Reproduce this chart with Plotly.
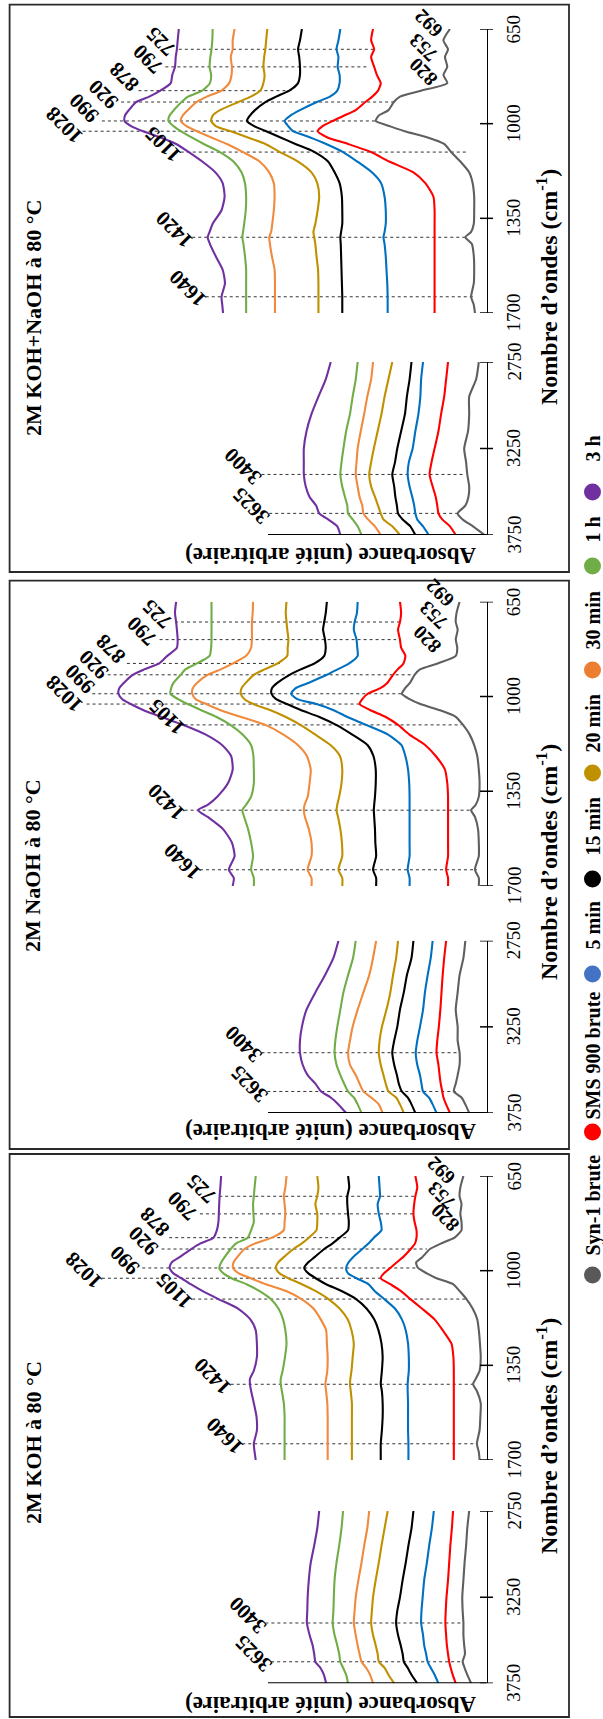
import plotly.graph_objects as go

# ---------------- data ----------------
SERIES = ["Syn-1 brute", "SMS 900 brute", "5 min", "15 min", "20 min", "30 min", "1 h", "3 h"]
LINE_COLORS = ["#5f5f5f", "#ff0000", "#0070c0", "#000000", "#bf9000", "#f08a3c", "#70ad47", "#7030a0"]
LEGEND_COLORS = ["#595959", "#ff0000", "#4472c4", "#000000", "#bf9000", "#ed7d31", "#70ad47", "#7030a0"]

PANEL_TITLES = ["2M KOH+NaOH à 80 °C", "2M NaOH à 80 °C", "2M KOH à 80 °C"]
X_TITLE = "Nombre d’ondes (cm<sup>-1</sup>)"
Y_TITLE = "Absorbance (unité arbitraire)"

TICKS_HIGH = [650, 1000, 1350, 1700]
TICKS_LOW = [2750, 3250, 3750]

WN_HIGH = [650, 692, 725, 753, 790, 820, 850, 878, 900, 920, 950, 970, 990, 1010, 1028, 1050, 1075,
           1105, 1140, 1180, 1220, 1270, 1320, 1370, 1400, 1420, 1445, 1490, 1540, 1590, 1640, 1670, 1700]
WN_LOW = [2750, 2850, 2950, 3050, 3150, 3250, 3330, 3400, 3470, 3530, 3580, 3625, 3660, 3700, 3750]

# absorbance (arbitrary units, stacked) -- order follows SERIES
KOHNAOH_HIGH = [
    [95, 112, 100, 108, 102, 112, 102, 170, 225, 241, 255, 280, 288, 250, 213, 155, 110, 92, 68, 45, 36, 32, 32, 33, 40, 55, 38, 33, 32, 33, 40, 33, 30],
    [295, 300, 292, 300, 292, 285, 275, 282, 297, 315, 340, 370, 400, 427, 439, 415, 360, 300, 253, 190, 159, 138, 135, 135, 135, 135, 135, 135, 135, 135, 135, 135, 135],
    [380, 385, 390, 385, 387, 382, 382, 388, 407, 441, 485, 510, 525, 515, 503, 460, 417, 373, 336, 298, 274, 265, 262, 262, 265, 268, 265, 262, 260, 258, 257, 257, 257],
    [480, 485, 490, 487, 485, 485, 490, 513, 547, 575, 602, 615, 623, 603, 573, 537, 497, 447, 412, 395, 382, 376, 375, 375, 378, 380, 379, 378, 377, 376, 375, 375, 375],
    [570, 573, 575, 578, 580, 577, 580, 588, 613, 645, 693, 712, 716, 703, 665, 622, 575, 537, 490, 455, 440, 435, 439, 445, 450, 448, 445, 442, 438, 437, 437, 437, 437],
    [655, 660, 660, 665, 662, 663, 669, 689, 727, 754, 777, 790, 795, 779, 753, 717, 675, 633, 590, 565, 553, 551, 553, 557, 560, 565, 563, 558, 551, 550, 550, 550, 550],
    [712, 713, 715, 718, 720, 716, 719, 739, 776, 793, 813, 824, 827, 813, 795, 768, 735, 693, 658, 637, 628, 625, 626, 630, 633, 635, 632, 628, 625, 625, 625, 625, 625],
    [800, 803, 805, 808, 810, 817, 821, 848, 877, 911, 930, 940, 941, 923, 893, 849, 807, 774, 739, 705, 686, 681, 689, 712, 720, 725, 719, 704, 686, 680, 689, 687, 685],
]
KOHNAOH_LOW = [
    [20, 27, 45, 45, 48, 58, 53, 50, 45, 47, 55, 75, 62, 35, 5],
    [100, 105, 110, 118, 125, 135, 143, 148, 140, 132, 128, 125, 115, 95, 80],
    [165, 170, 172, 177, 185, 192, 202, 205, 200, 193, 188, 185, 180, 165, 150],
    [195, 200, 207, 212, 222, 232, 238, 245, 240, 237, 233, 230, 218, 198, 185],
    [245, 255, 265, 273, 283, 293, 300, 305, 300, 290, 282, 275, 268, 245, 225],
    [295, 300, 310, 318, 327, 335, 338, 340, 335, 330, 323, 320, 308, 290, 275],
    [335, 340, 348, 355, 365, 372, 377, 380, 375, 368, 362, 360, 348, 335, 325],
    [405, 418, 437, 455, 468, 475, 475, 475, 470, 460, 443, 435, 412, 388, 380],
]
NAOH_HIGH = [
    [70, 78, 80, 75, 80, 76, 80, 127, 173, 187, 199, 212, 220, 200, 172, 123, 80, 61, 44, 32, 24, 20, 18, 20, 28, 40, 30, 22, 20, 20, 30, 20, 20],
    [225, 222, 225, 230, 225, 222, 211, 216, 231, 243, 258, 277, 309, 323, 330, 303, 263, 230, 201, 159, 132, 108, 102, 100, 100, 100, 100, 100, 100, 100, 105, 100, 100],
    [335, 337, 343, 345, 338, 336, 335, 357, 387, 415, 463, 497, 508, 492, 442, 399, 363, 313, 257, 221, 211, 204, 201, 200, 200, 200, 200, 200, 200, 200, 205, 200, 200],
    [415, 418, 422, 425, 420, 418, 422, 447, 483, 512, 544, 558, 559, 547, 519, 483, 436, 391, 350, 309, 294, 288, 288, 290, 292, 293, 292, 290, 289, 287, 295, 287, 287],
    [520, 522, 520, 518, 515, 517, 518, 543, 577, 605, 626, 637, 639, 629, 606, 563, 523, 484, 446, 405, 381, 375, 377, 383, 388, 390, 386, 380, 376, 375, 385, 375, 375],
    [607, 608, 610, 610, 610, 612, 625, 659, 691, 725, 753, 764, 765, 756, 729, 693, 640, 575, 529, 490, 467, 457, 460, 465, 473, 475, 472, 462, 455, 455, 465, 455, 455],
    [715, 715, 715, 715, 715, 716, 720, 753, 783, 795, 814, 820, 822, 802, 777, 743, 703, 666, 635, 612, 606, 605, 605, 612, 625, 635, 630, 620, 612, 607, 612, 605, 605],
    [807, 810, 807, 805, 803, 805, 830, 851, 890, 920, 943, 955, 957, 947, 925, 893, 847, 788, 731, 687, 664, 660, 672, 700, 725, 750, 725, 685, 662, 655, 670, 657, 660],
]
NAOH_LOW = [
    [55, 60, 70, 75, 80, 75, 75, 70, 70, 75, 80, 85, 65, 55, 45],
    [105, 110, 114, 117, 120, 124, 128, 130, 125, 122, 119, 115, 112, 105, 95],
    [140, 145, 153, 160, 165, 173, 180, 184, 180, 173, 169, 165, 150, 140, 130],
    [190, 195, 207, 215, 225, 232, 240, 245, 240, 233, 228, 220, 205, 195, 185],
    [230, 235, 243, 250, 260, 272, 278, 280, 275, 268, 262, 255, 235, 225, 215],
    [287, 295, 305, 320, 335, 348, 355, 360, 355, 340, 330, 320, 300, 280, 270],
    [340, 347, 360, 372, 380, 388, 393, 395, 390, 380, 370, 360, 345, 335, 325],
    [385, 398, 420, 445, 468, 480, 485, 485, 478, 465, 445, 430, 405, 385, 365],
]
KOH_HIGH = [
    [60, 68, 70, 65, 68, 65, 65, 83, 119, 147, 167, 183, 178, 155, 130, 87, 70, 52, 36, 24, 20, 17, 15, 18, 28, 35, 25, 15, 16, 18, 25, 20, 18],
    [185, 180, 185, 188, 190, 187, 182, 182, 186, 197, 217, 234, 250, 267, 275, 250, 223, 198, 168, 135, 114, 91, 86, 85, 85, 85, 85, 85, 85, 85, 85, 85, 85],
    [280, 278, 277, 283, 280, 275, 273, 293, 307, 323, 347, 359, 365, 360, 338, 307, 291, 266, 238, 220, 210, 204, 202, 202, 204, 205, 205, 204, 204, 204, 203, 203, 203],
    [360, 357, 362, 362, 360, 358, 360, 382, 401, 422, 447, 464, 474, 463, 444, 417, 377, 339, 312, 292, 281, 273, 270, 272, 274, 275, 272, 270, 270, 272, 275, 275, 275],
    [440, 437, 440, 445, 440, 440, 442, 462, 481, 502, 527, 542, 548, 538, 515, 480, 445, 411, 382, 361, 351, 345, 348, 351, 354, 355, 353, 350, 350, 350, 350, 350, 350],
    [520, 523, 527, 525, 523, 525, 527, 558, 603, 629, 648, 658, 659, 644, 613, 574, 521, 481, 450, 431, 417, 415, 413, 414, 417, 419, 417, 414, 413, 413, 413, 413, 413],
    [600, 603, 605, 607, 606, 605, 612, 621, 652, 665, 681, 690, 695, 684, 663, 624, 591, 561, 541, 529, 523, 520, 524, 530, 535, 535, 532, 527, 525, 525, 525, 525, 525],
    [690, 692, 694, 695, 696, 697, 701, 710, 745, 768, 798, 819, 824, 814, 793, 769, 739, 697, 646, 614, 600, 597, 597, 605, 615, 615, 612, 605, 598, 597, 605, 603, 600],
]
KOH_LOW = [
    [45, 50, 53, 57, 60, 63, 62, 60, 60, 58, 56, 62, 57, 50, 40],
    [87, 90, 94, 97, 100, 104, 106, 107, 105, 103, 100, 97, 93, 88, 80],
    [137, 142, 149, 155, 162, 166, 169, 170, 165, 162, 157, 153, 145, 135, 125],
    [190, 195, 203, 210, 218, 225, 232, 235, 230, 223, 218, 215, 205, 195, 180],
    [257, 265, 273, 280, 288, 295, 298, 300, 295, 288, 283, 280, 265, 255, 240],
    [305, 310, 318, 325, 333, 340, 343, 345, 340, 335, 330, 325, 313, 303, 295],
    [373, 377, 383, 390, 395, 397, 398, 400, 395, 388, 383, 380, 373, 365, 360],
    [435, 440, 448, 457, 462, 465, 466, 467, 460, 452, 448, 445, 432, 423, 417],
]

# peak markers: (wavenumber, absorbance at label end, absorbance at line end)
KOHNAOH_PEAKS_HIGH = [(725, 800, 295), (790, 835, 305), (878, 905, 500), (920, 950, 235), (990, 1000, 290),
                      (1028, 1050, 440), (1105, 795, 50), (1420, 765, 55), (1640, 730, 35)]
KOHNAOH_PEAKS_LOW = [(3400, 585, 55), (3625, 565, 75)]
NAOH_PEAKS_HIGH = [(725, 810, 225), (790, 850, 235), (878, 935, 530), (920, 985, 190), (990, 1025, 220),
                   (1028, 1040, 330), (1105, 785, 65), (1420, 785, 40), (1640, 745, 25)]
NAOH_PEAKS_LOW = [(3400, 585, 70), (3625, 570, 80)]
KOH_PEAKS_HIGH = [(725, 695, 180), (790, 745, 190), (878, 825, 365), (920, 845, 155), (990, 895, 180),
                  (1028, 1000, 275), (1105, 765, 50), (1420, 665, 35), (1640, 635, 25)]
KOH_PEAKS_LOW = [(3400, 575, 60), (3625, 560, 65)]
SYN_PEAK_LABELS = [692, 753, 820]

PANEL_DATA = [
    (KOHNAOH_HIGH, KOHNAOH_LOW, KOHNAOH_PEAKS_HIGH, KOHNAOH_PEAKS_LOW),
    (NAOH_HIGH, NAOH_LOW, NAOH_PEAKS_HIGH, NAOH_PEAKS_LOW),
    (KOH_HIGH, KOH_LOW, KOH_PEAKS_HIGH, KOH_PEAKS_LOW),
]

# ---------------- layout (pixels) ----------------
W, H = 603, 1719
FONT = "Liberation Serif, Times New Roman, serif"
X_LEFT, X_AXIS = 9.6, 486.5          # plot area left edge / wavenumber axis position
A_MAX = 1240                          # absorbance range shown (a.u.)
PANEL_BOX = [(4.6, 572), (580.7, 1149), (1154, 1717)]
# y pixel positions of 650, 1700, 2750, 3750 per panel
PANEL_AX = [(29, 313, 362, 535), (601.7, 886, 940.7, 1113), (1176, 1460, 1511, 1683.3)]
TITLE_Y = [318, 866, 1443]
XTITLE_Y = [287, 862, 1436]
SYN_LABEL_POS = [  # (a.u., yshift px) for 692 / 753 / 820 labels
    [(150, 17), (165, 9), (165, 3)],
    [(121, 20), (139, 14), (155, 8)],
    [(118, 17), (118, 8), (108, 4)],
]
# extra label offsets (px right, px down) to keep crowded labels apart
LABEL_NUDGE = {
    (0, 878): (3, -6), (0, 990): (0, -5), (0, 1028): (0, 2),
    (1, 878): (2, -7), (1, 920): (4, -2), (1, 990): (5, -7), (1, 1028): (-4, -2),
    (2, 878): (3, -8),
}
LEGEND_CIRCLE_Y = [1275, 1132, 974, 879, 773, 670, 566, 492]
LEGEND_TEXT_Y = [1205, 1056, 926, 827, 724, 621, 530, 449]


def px(x):
    return x / W


def py(y):
    return 1 - y / H


def note(x, y, text, size, angle, bold=True, xref="paper", yref="paper", **kw):
    return dict(x=x, y=y, xref=xref, yref=yref, text=f"<b>{text}</b>" if bold else text,
                showarrow=False, textangle=angle, xanchor="center", yanchor="middle",
                font=dict(family=FONT, size=size, color="black"), **kw)


fig = go.Figure()
layout = dict(
    width=W, height=H, margin=dict(l=0, r=0, t=0, b=0),
    paper_bgcolor="white", plot_bgcolor="rgba(0,0,0,0)", showlegend=False,
    xaxis=dict(domain=[px(X_LEFT), px(X_AXIS)], range=[A_MAX, 0], visible=False, fixedrange=True),
)
shapes, annotations = [], []

for p, (high, low, pk_high, pk_low) in enumerate(PANEL_DATA):
    y650, y1700, y2750, y3750 = PANEL_AX[p]
    top, bot = PANEL_BOX[p]
    n_hi, n_lo = 2 * p + 1, 2 * p + 2
    ya_hi = "y" if n_hi == 1 else f"y{n_hi}"
    ya_lo = f"y{n_lo}"
    for name, dom, rng in ((n_hi, (y1700, y650), [1700, 650]), (n_lo, (y3750, y2750), [3750, 2750])):
        key = "yaxis" if name == 1 else f"yaxis{name}"
        layout[key] = dict(domain=[py(dom[0]), py(dom[1])], range=rng, anchor="x", side="right",
                           showline=True, linecolor="black", linewidth=1.5, ticks="",
                           showticklabels=False, showgrid=False, zeroline=False, fixedrange=True)

    # spectra
    for s in range(len(SERIES)):
        for vals, wn, ya in ((high[s], WN_HIGH, ya_hi), (low[s], WN_LOW, ya_lo)):
            fig.add_trace(go.Scatter(
                x=vals, y=wn, xaxis="x", yaxis=ya, mode="lines", name=SERIES[s],
                line=dict(color=LINE_COLORS[s], width=2.1, shape="spline", smoothing=0.6),
                hoverinfo="skip"))

    # panel frame
    shapes.append(dict(type="rect", xref="paper", yref="paper", x0=px(X_LEFT), x1=px(569),
                       y0=py(bot), y1=py(top), line=dict(color="#2a2a2a", width=1.8)))
    # crossing ticks + tick labels
    for ticks, ya in ((TICKS_HIGH, ya_hi), (TICKS_LOW, ya_lo)):
        for t in ticks:
            shapes.append(dict(type="line", xref="paper", yref=ya, x0=px(X_AXIS - 6.5), x1=px(X_AXIS + 6.5),
                               y0=t, y1=t, line=dict(color="black", width=1.5)))
            annotations.append(note(px(513.5), t, str(t), 19, -90, bold=False, yref=ya))
    # absorbance axis line at 3750
    shapes.append(dict(type="line", xref="paper", yref=ya_lo, x0=px(268), x1=px(X_AXIS), y0=3750, y1=3750,
                       line=dict(color="black", width=2)))

    # dotted peak guides + labels
    for peaks, ya in ((pk_high, ya_hi), (pk_low, ya_lo)):
        for wn, a0, a1 in peaks:
            shapes.append(dict(type="line", xref="x", yref=ya, x0=a0, x1=a1, y0=wn, y1=wn, layer="below",
                               line=dict(color="#333333", width=1, dash="dot")))
            dx, dy = LABEL_NUDGE.get((p, wn), (0, 0))
            annotations.append(note(a0, wn, str(wn), 21, -135, xref="x", yref=ya,
                                    xshift=-18 + dx, yshift=8 - dy))
    for wn, (a, ys) in zip(SYN_PEAK_LABELS, SYN_LABEL_POS[p]):
        annotations.append(note(a, wn, str(wn), 20, -135, xref="x", yref=ya_hi, yshift=ys))

    # titles
    annotations.append(note(px(33), py(TITLE_Y[p]), PANEL_TITLES[p], 22, -90))
    annotations.append(note(px(547), py(XTITLE_Y[p]), X_TITLE, 24, -90))
    annotations.append(note(px(330), py(top + 551), Y_TITLE, 23, 180))

# legend (rotated, drawn manually)
for s, name in enumerate(SERIES):
    cy = LEGEND_CIRCLE_Y[s]
    shapes.append(dict(type="circle", xref="paper", yref="paper", x0=px(584), x1=px(601),
                       y0=py(cy + 8.5), y1=py(cy - 8.5), fillcolor=LEGEND_COLORS[s], line=dict(width=0)))
    annotations.append(note(px(592.5), py(LEGEND_TEXT_Y[s]), name, 20, -90))

layout["shapes"] = shapes
layout["annotations"] = annotations
fig.update_layout(**layout)
fig.write_html(
    "out.html",
    config={"displayModeBar": False, "staticPlot": True},
    post_script="document.body.style.margin='0';document.body.style.padding='0';"
                "document.body.style.overflow='hidden';document.documentElement.style.overflow='hidden';",
)
